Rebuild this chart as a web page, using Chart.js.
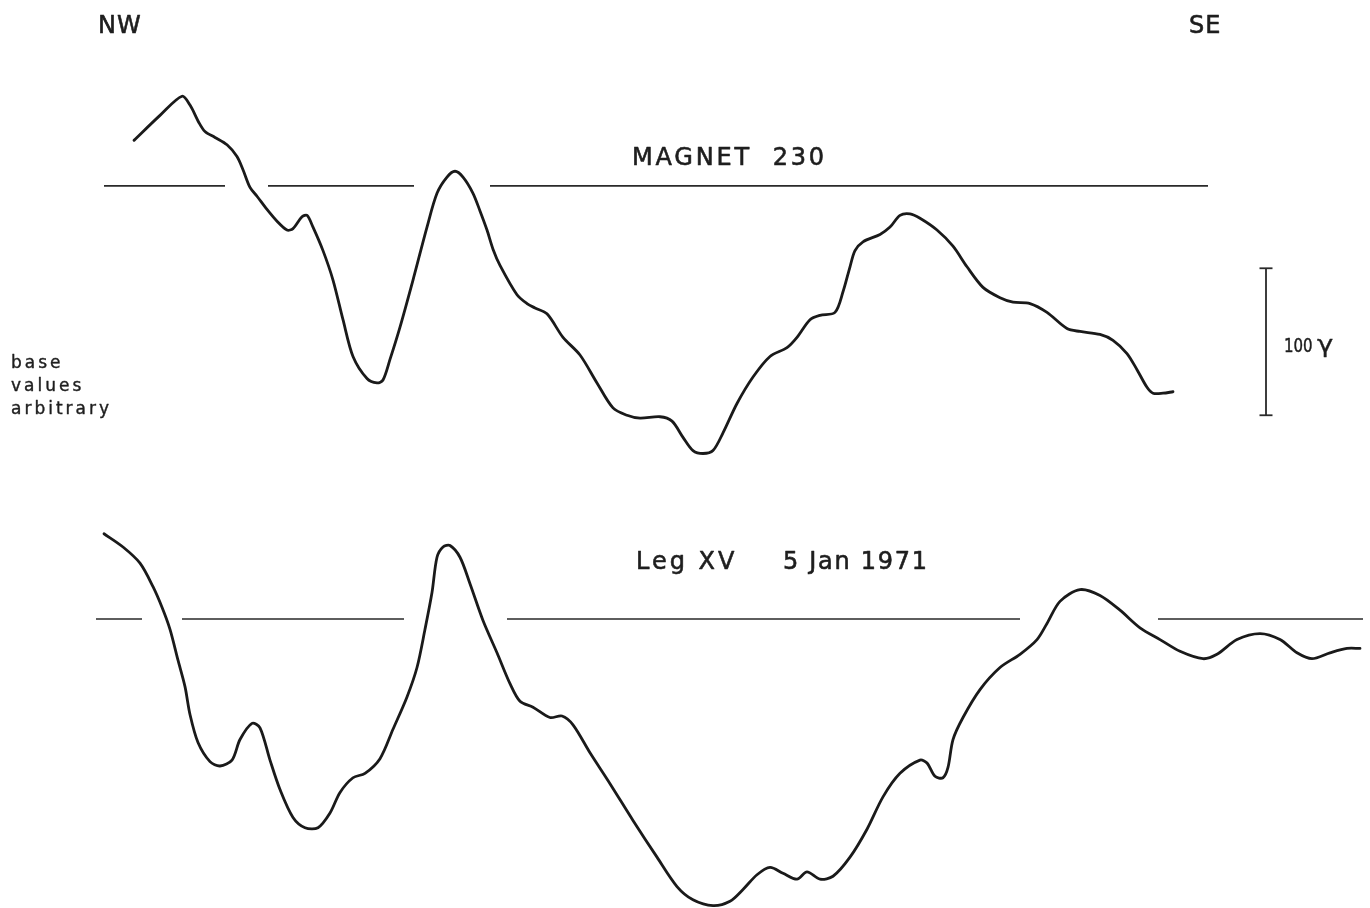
<!DOCTYPE html>
<html>
<head>
<meta charset="utf-8">
<script src="https://cdn.jsdelivr.net/npm/chart.js@4.4.1/dist/chart.umd.min.js"></script>
<style>
  html, body { margin: 0; padding: 0; background: #ffffff; }
  #wrap { width: 1370px; height: 908px; position: relative; }
</style>
</head>
<body>
<div id="wrap"><canvas id="c"></canvas></div>
<script>
// Along-track distance (arbitrary units, NW -> SE) and total-field anomaly in gammas.

// MAGNET 230 profile
const magnetDist = [13.4,16.0,18.2,19.0,19.9,20.5,21.5,22.7,23.7,24.3,
  25.0,25.7,26.7,27.7,28.7,29.3,30.2,30.7,31.3,32.3,
  33.3,34.3,35.3,36.7,37.7,38.3,39.0,40.0,41.3,42.7,
  43.7,44.7,45.5,46.3,47.3,48.0,48.7,49.3,50.0,51.7,
  52.7,53.5,54.7,56.3,58.0,59.7,61.3,62.7,64.0,66.0,
  67.2,68.3,69.3,70.3,71.3,72.3,73.7,75.3,77.0,78.7,
  79.7,81.0,82.0,83.5,84.3,85.0,85.5,86.3,88.0,89.0,
  90.0,91.0,92.0,93.7,95.3,96.7,98.3,100.0,101.3,103.0,
  104.7,106.7,108.0,110.0,111.3,112.7,113.7,114.7,115.3,116.3,
  117.3];
const magnetGamma = [31,48,61,55,43,37,33,28,20,11,
  -1,-7,-16,-24,-30,-29,-21,-20,-28,-44,
  -64,-91,-116,-131,-134,-132,-118,-96,-64,-28,
  -5,6,10,6,-5,-17,-30,-43,-54,-74,
  -80,-83,-87,-103,-115,-134,-151,-156,-158,-157,
  -160,-171,-180,-182,-180,-168,-148,-130,-116,-110,
  -103,-91,-88,-86,-72,-55,-44,-38,-33,-28,
  -20,-19,-22,-30,-41,-55,-69,-76,-79,-80,
  -86,-97,-99,-101,-105,-114,-125,-137,-141,-141,
  -140];

// Leg XV, 5 Jan 1971 profile
const legDist = [10.4,12.3,14.0,15.3,16.2,17.0,17.8,18.5,19.0,19.8,
  21.0,22.0,23.2,24.0,25.2,26.0,27.0,28.0,29.3,30.5,
  31.8,33.0,34.0,35.3,36.5,38.0,39.3,40.7,41.7,42.5,
  43.2,43.7,44.3,45.0,46.0,47.0,48.3,49.7,51.0,52.0,
  53.3,55.0,56.2,57.3,59.0,61.0,63.3,65.7,67.7,69.3,
  71.3,73.0,74.3,75.7,77.0,78.3,79.7,80.7,82.0,83.3,
  85.0,86.7,88.3,90.0,92.0,92.7,93.5,94.3,94.8,95.3,
  96.3,98.0,100.0,102.0,103.7,104.7,106.0,108.0,110.0,112.0,
  114.0,116.0,118.0,120.3,121.7,123.7,126.0,128.0,129.7,131.2,
  133.0,134.7,136.0];
const legGamma = [58,49,38,22,8,-7,-28,-46,-65,-84,
  -97,-100,-96,-82,-71,-74,-96,-116,-135,-142,
  -142,-132,-118,-108,-105,-95,-75,-53,-33,-7,
  18,42,49,50,42,24,-1,-23,-44,-56,
  -60,-67,-66,-72,-91,-112,-137,-162,-182,-191,
  -195,-192,-184,-174,-169,-173,-177,-172,-177,-175,
  -162,-143,-121,-105,-96,-98,-107,-108,-101,-82,
  -67,-48,-33,-24,-14,-3,12,20,16,6,
  -6,-14,-22,-27,-24,-14,-10,-14,-23,-27,
  -23,-20,-20];

// Zero-line pieces (start, end distance), broken where a profile crosses
const magnetBaseline = [[10.4, 22.5], [26.8, 41.4], [49.0, 120.8]];
const legBaseline = [[9.6, 14.2], [18.2, 40.4], [50.7, 102.0], [115.8, 136.3]];

// Vertical scale bar on the MAGNET axis
const scaleBarDist = 126.6;
const scaleBarTop = -56;
const scaleBarSpan = 100;

// Axis extents: both profiles share one vertical scale, each with its own arbitrary base
const distRange = [0, 137];
const gammaSpan = 617.7;
const magnetAxisTop = 126.5;
const legAxisTop = 421.1;

const ink = '#1a1a1a';

const toPoints = (xs, ys) => xs.map((x, i) => ({ x: x, y: ys[i] }));
const zeroLine = (pieces) => {
  const pts = [];
  pieces.forEach(([a, b], i) => {
    if (i) pts.push({ x: (pieces[i - 1][1] + a) / 2, y: null });
    pts.push({ x: a, y: 0 }, { x: b, y: 0 });
  });
  return pts;
};

const curveStyle = {
  borderColor: ink, borderWidth: 2.8, pointRadius: 0, tension: 0.3,
  borderCapStyle: 'round', borderJoinStyle: 'round',
  fill: false, clip: false
};
const zeroStyle = {
  borderColor: '#2a2a2a', borderWidth: 1.7, pointRadius: 0, tension: 0,
  spanGaps: false, fill: false, clip: false
};

const labels = {
  id: 'profileLabels',
  afterDraw(chart) {
    const ctx = chart.ctx;
    const xs = chart.scales.x, ym = chart.scales.yMagnet;
    ctx.save();
    ctx.fillStyle = '#1e1e1e';
    ctx.strokeStyle = '#1e1e1e';
    ctx.lineJoin = 'round';
    ctx.textBaseline = 'alphabetic';
    ctx.textAlign = 'left';
    const put = (s, x, y, size, spacing, weight, squeeze) => {
      const k = squeeze || 1;
      ctx.save();
      ctx.translate(x, y);
      ctx.scale(k, 1);
      ctx.font = size + 'px "DejaVu Sans"';
      ctx.letterSpacing = spacing + 'px';
      ctx.lineWidth = weight;
      ctx.fillText(s, 0, 0);
      if (weight > 0) ctx.strokeText(s, 0, 0);
      ctx.restore();
    };
    put('NW', 98, 33, 24, 1, 0.6);
    put('SE', 1189, 33, 24, 1, 0.6);
    put('MAGNET  230', 632, 165, 24, 2.8, 0.6);
    put('Leg XV', 636, 569, 24, 3, 0.6);
    put('5 Jan 1971', 783, 569, 24, 1.7, 0.6);
    put('base', 11, 368, 17, 3, 0.4);
    put('values', 11, 391, 17, 3, 0.4);
    put('arbitrary', 11, 414, 17, 3, 0.4);
    // "100 γ" beside the scale bar
    const midY = ym.getPixelForValue(scaleBarTop - scaleBarSpan / 2);
    const barX = xs.getPixelForValue(scaleBarDist);
    put('100', barX + 18, midY + 10, 20, 0, 0.5, 0.75);
    put('\u03b3', barX + 51, midY + 10, 23, 0, 0.3, 1.2);
    ctx.restore();
  }
};

new Chart(document.getElementById('c'), {
  type: 'line',
  data: {
    datasets: [
      Object.assign({ label: 'MAGNET 230', data: toPoints(magnetDist, magnetGamma), yAxisID: 'yMagnet' }, curveStyle),
      Object.assign({ label: 'MAGNET 230 zero', data: zeroLine(magnetBaseline), yAxisID: 'yMagnet' }, zeroStyle),
      Object.assign({ label: 'Leg XV', data: toPoints(legDist, legGamma), yAxisID: 'yLeg' }, curveStyle),
      Object.assign({ label: 'Leg XV zero', data: zeroLine(legBaseline), yAxisID: 'yLeg' }, zeroStyle),
      {
        label: '100 gamma',
        data: [{ x: scaleBarDist, y: scaleBarTop }, { x: scaleBarDist, y: scaleBarTop - scaleBarSpan }],
        yAxisID: 'yMagnet',
        borderColor: '#2a2a2a', borderWidth: 1.8,
        pointStyle: 'line', pointRadius: 6.5, pointBorderWidth: 1.8,
        pointBorderColor: '#2a2a2a', pointBackgroundColor: '#2a2a2a',
        tension: 0, fill: false, clip: false
      }
    ]
  },
  options: {
    responsive: true,
    maintainAspectRatio: false,
    animation: false,
    layout: { padding: 0, autoPadding: false },
    plugins: { legend: { display: false }, tooltip: { enabled: false }, title: { display: false } },
    scales: {
      x: { type: 'linear', min: distRange[0], max: distRange[1], display: false },
      yMagnet: { type: 'linear', min: magnetAxisTop - gammaSpan, max: magnetAxisTop, display: false },
      yLeg: { type: 'linear', min: legAxisTop - gammaSpan, max: legAxisTop, display: false }
    }
  },
  plugins: [labels]
});
</script>
</body>
</html>
